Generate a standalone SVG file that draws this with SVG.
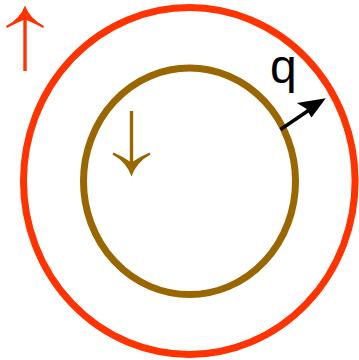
<svg xmlns="http://www.w3.org/2000/svg" width="359" height="360" viewBox="0 0 359 360">
<style>
.ring{fill:none;stroke-width:7}
.shaft{fill:none;stroke-width:3.4}
</style>
<rect width="359" height="360" fill="#ffffff"/>
<g id="outer">
<ellipse class="ring" cx="189.3" cy="181" rx="165.8" ry="173.5" stroke="#ff3300"/>
</g>
<g id="inner">
<ellipse class="ring" cx="189.5" cy="181.3" rx="106" ry="113.3" stroke="#996600"/>
</g>
<g id="connectors">
<g id="red-arrow">
<line class="shaft" x1="25" y1="71" x2="25" y2="14" stroke="#ff3300"/>
<path d="M25,5.5 Q30,19 44,26 L43,28 Q32,22 25,19.5 Q18,22 7,28 L6,26 Q20,19 25,5.5 Z" fill="#ff3300"/>
</g>
<g id="brown-arrow">
<line class="shaft" x1="131.5" y1="111" x2="131.5" y2="168" stroke="#996600"/>
<path d="M131.5,176.5 Q136.5,162 150.5,154.5 L149.5,152.5 Q139,157 131.5,162.5 Q124,157 113.5,152.5 L112.5,154.5 Q126.5,162 131.5,176.5 Z" fill="#996600"/>
</g>
<g id="q-arrow">
<line class="shaft" x1="280.5" y1="129.5" x2="318" y2="104" stroke="#000000"/>
<path d="M325.8,98.3 L296.8,103 L306,108.5 L311.5,117.5 Z" fill="#000000"/>
</g>
</g>
<g id="label">
<text x="270" y="83" font-family="Liberation Sans, Arial, sans-serif" font-size="48" fill="#000000">q</text>
</g>
</svg>
